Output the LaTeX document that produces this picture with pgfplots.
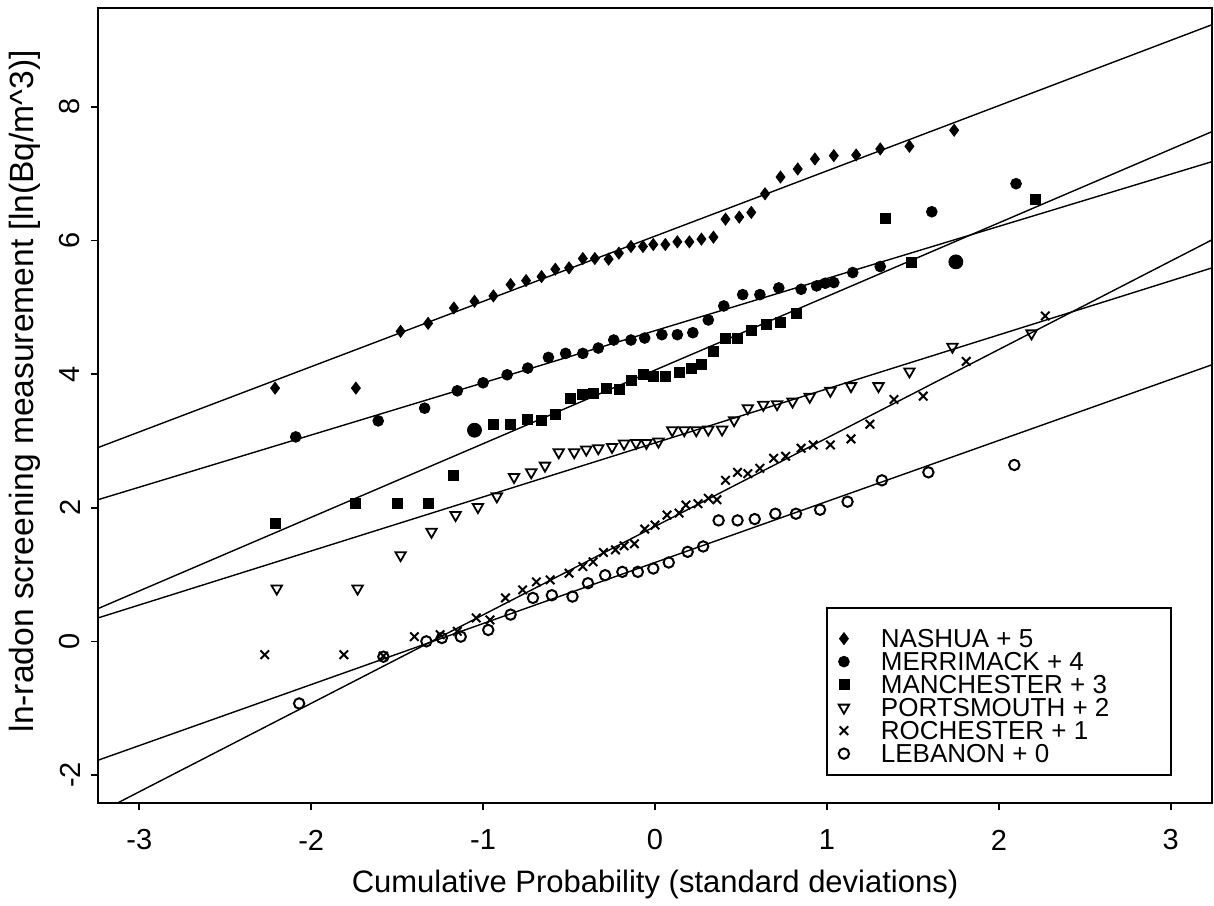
\documentclass[border=0pt]{standalone}
\usepackage{fontspec}
\setmainfont{Liberation Sans}
\usepackage{pgfplots}
\pgfplotsset{compat=1.18}
\begin{document}
\begin{tikzpicture}
\begin{axis}[
  scale only axis, width=557pt, height=397.5pt,
  xmin=-3.24, xmax=3.24, ymin=-2.42, ymax=9.48,
  xtick={-3,-2,-1,0,1,2,3}, ytick={-2,0,2,4,6,8},
  tick pos=left, tick align=outside, major tick length=3.5pt,
  axis line style={line width=1pt},
  every tick/.style={black, line width=0.8pt},
  /pgf/number format/assume math mode=true,
  tick label style={font=\fontsize{14.5}{16}\selectfont},
  xticklabel style={anchor=center, yshift=-15pt},
  yticklabel style={xshift=-10.5pt, rotate=90, anchor=center},
  every axis x label/.style={at={(axis description cs:0.5,0)}, yshift=-40.5pt, anchor=center, font=\fontsize{15.5}{17}\selectfont},
  every axis y label/.style={at={(axis description cs:0,0.518)}, xshift=-36.5pt, rotate=90, anchor=center, font=\fontsize{16.8}{18}\selectfont},
  xlabel={Cumulative Probability (standard deviations)},
  ylabel={ln-radon screening measurement [ln(Bq/m\textasciicircum 3)]},
  legend style={at={(axis cs:1,0.5)}, anchor=north west, draw=none, fill=none,
    inner sep=0pt, outer sep=0pt, yshift=-10.35pt, row sep=0pt,
    font=\fontsize{13}{13}\selectfont,
    nodes={inner sep=0pt, text height=9.3pt, text depth=2.2pt, anchor=base west},
    /tikz/every odd column/.append style={column sep=10pt}},
  legend cell align=left,
  legend image code/.code={\path[draw=none, fill=none] (0pt,-2pt) rectangle (17pt,9pt);
    \draw[mark repeat=2, mark phase=2, #1] plot coordinates {(0pt,4.3pt) (8.5pt,4.3pt) (17pt,4.3pt)};},
]
% regression lines
\addplot[black, line width=0.7pt, forget plot] coordinates {(-3.24,2.90) (3.24,9.23)};
\addplot[black, line width=0.7pt, forget plot] coordinates {(-3.24,2.12) (3.24,7.18)};
\addplot[black, line width=0.7pt, forget plot] coordinates {(-3.24,0.49) (3.24,7.63)};
\addplot[black, line width=0.7pt, forget plot] coordinates {(-3.24,0.35) (3.24,5.59)};
\addplot[black, line width=0.7pt, forget plot] coordinates {(-3.24,-2.57) (3.24,6.01)};
\addplot[black, line width=0.7pt, forget plot] coordinates {(-3.24,-1.78) (3.24,4.14)};
\fill[white] (axis cs:1,-2) rectangle (axis cs:3,0.5);
\draw[black, line width=1pt] (axis cs:1,-2) rectangle (axis cs:3,0.5);
% NASHUA
\addplot[only marks, mark=diamond*, mark size=3pt, black] coordinates {
(-2.21,3.79) (-1.74,3.79) (-1.48,4.64) (-1.32,4.76) (-1.17,4.99) (-1.05,5.09) (-0.94,5.17) (-0.84,5.34) (-0.75,5.40) (-0.66,5.46) (-0.58,5.57) (-0.50,5.59) (-0.42,5.73) (-0.35,5.73) (-0.27,5.72) (-0.21,5.81) (-0.14,5.91) (-0.07,5.91) (-0.01,5.94) (0.06,5.94) (0.13,5.98) (0.20,5.98) (0.27,6.02) (0.34,6.05) (0.41,6.32) (0.49,6.35) (0.56,6.42) (0.64,6.70) (0.73,6.95) (0.83,7.07) (0.93,7.22) (1.04,7.27) (1.17,7.28) (1.31,7.37) (1.48,7.41) (1.74,7.65)};
\addlegendentry{NASHUA + 5}
% MERRIMACK
\addplot[only marks, mark=*, mark size=2.7pt, black] coordinates {
(-2.09,3.06) (-1.61,3.30) (-1.34,3.49) (-1.15,3.75) (-1.00,3.87) (-0.86,3.99) (-0.74,4.09) (-0.62,4.25) (-0.52,4.31) (-0.42,4.31) (-0.33,4.39) (-0.24,4.51) (-0.14,4.51) (-0.06,4.54) (0.04,4.59) (0.13,4.59) (0.22,4.62) (0.31,4.81) (0.40,5.02) (0.51,5.19) (0.61,5.19) (0.72,5.29) (0.85,5.27) (0.94,5.32) (0.99,5.36) (1.04,5.37) (1.15,5.52) (1.31,5.61) (1.61,6.43) (2.10,6.85)};
\addlegendentry{MERRIMACK + 4}
% MANCHESTER
\addplot[only marks, mark=square*, mark size=2.5pt, black] coordinates {
(-2.21,1.77) (-1.74,2.07) (-1.50,2.06) (-1.32,2.06) (-1.17,2.48) (-0.94,3.24) (-0.84,3.24) (-0.74,3.32) (-0.66,3.30) (-0.58,3.39) (-0.49,3.64) (-0.42,3.69) (-0.36,3.71) (-0.28,3.79) (-0.21,3.77) (-0.14,3.91) (-0.07,3.99) (-0.01,3.97) (0.06,3.97) (0.14,4.02) (0.21,4.09) (0.27,4.14) (0.34,4.34) (0.41,4.54) (0.48,4.54) (0.56,4.65) (0.65,4.74) (0.73,4.77) (0.82,4.91) (1.34,6.33) (1.49,5.67) (2.21,6.62)};
\addlegendentry{MANCHESTER + 3}
% PORTSMOUTH
\addplot[only marks, mark=triangle, mark size=3pt, mark options={rotate=180, line width=0.9pt}, black] coordinates {
(-2.20,0.79) (-1.73,0.79) (-1.48,1.29) (-1.30,1.64) (-1.16,1.89) (-1.03,2.01) (-0.92,2.17) (-0.82,2.46) (-0.72,2.53) (-0.64,2.63) (-0.56,2.83) (-0.47,2.83) (-0.40,2.87) (-0.33,2.89) (-0.25,2.91) (-0.18,2.96) (-0.11,2.97) (-0.05,2.97) (0.02,2.99) (0.10,3.16) (0.17,3.16) (0.24,3.16) (0.31,3.17) (0.39,3.17) (0.46,3.31) (0.54,3.49) (0.63,3.54) (0.71,3.55) (0.80,3.59) (0.90,3.66) (1.02,3.75) (1.14,3.82) (1.30,3.82) (1.48,4.04) (1.73,4.41) (2.19,4.61)};
\addlegendentry{PORTSMOUTH + 2}
% ROCHESTER
\addplot[only marks, mark=x, mark size=3pt, mark options={line width=1pt}, black] coordinates {
(-2.27,-0.20) (-1.81,-0.20) (-1.58,-0.22) (-1.40,0.07) (-1.25,0.10) (-1.15,0.15) (-1.04,0.35) (-0.96,0.32) (-0.87,0.65) (-0.77,0.77) (-0.69,0.89) (-0.61,0.92) (-0.50,1.02) (-0.42,1.12) (-0.36,1.19) (-0.30,1.33) (-0.23,1.37) (-0.18,1.43) (-0.12,1.46) (-0.06,1.68) (0.00,1.74) (0.07,1.89) (0.14,1.92) (0.18,2.04) (0.25,2.06) (0.31,2.14) (0.36,2.12) (0.41,2.41) (0.48,2.53) (0.54,2.51) (0.61,2.59) (0.69,2.74) (0.76,2.77) (0.85,2.89) (0.92,2.94) (1.02,2.94) (1.14,3.03) (1.25,3.25) (1.39,3.62) (1.56,3.67) (1.81,4.19) (2.27,4.87)};
\addlegendentry{ROCHESTER + 1}
% LEBANON
\addplot[only marks, mark=o, mark size=2.6pt, mark options={line width=1pt}, black] coordinates {
(-2.07,-0.93) (-1.58,-0.23) (-1.33,0.00) (-1.24,0.05) (-1.13,0.07) (-0.97,0.17) (-0.84,0.40) (-0.71,0.65) (-0.60,0.69) (-0.48,0.67) (-0.39,0.87) (-0.29,0.99) (-0.19,1.04) (-0.10,1.04) (-0.01,1.09) (0.08,1.18) (0.19,1.34) (0.28,1.42) (0.37,1.81) (0.48,1.81) (0.58,1.83) (0.70,1.91) (0.82,1.91) (0.96,1.97) (1.12,2.09) (1.32,2.41) (1.59,2.53) (2.09,2.64)};
\addlegendentry{LEBANON + 0}
% larger overlapping dots
\addplot[only marks, mark=*, mark size=3.5pt, black, forget plot] coordinates {(-1.05,3.16) (1.75,5.68)};
\end{axis}
\pgfresetboundingbox
\path[use as bounding box] (-49pt,-51pt) rectangle (558pt,401.5pt);
\end{tikzpicture}
\end{document}
